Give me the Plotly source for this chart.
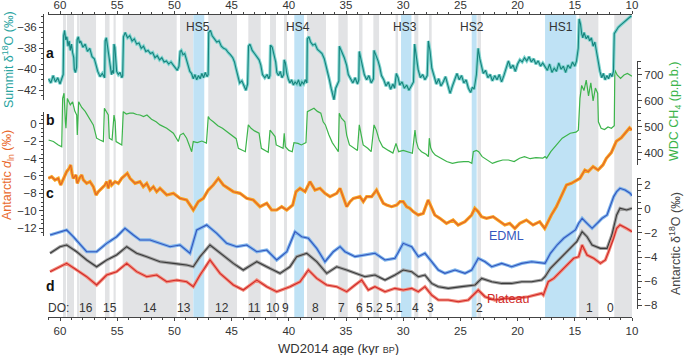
import plotly.graph_objects as go

# ---------------- data ----------------
# a: Summit (Greenland) d18O (permil) vs WD2014 age (kyr BP)
age_a = [61.0, 60.8, 60.6, 60.4, 60.2, 60.0, 59.85, 59.72, 59.68, 59.6, 59.5, 59.4, 59.3, 59.2, 59.1, 59.0, 58.9, 58.8,
         58.75, 58.65, 58.55, 58.5, 58.4, 58.3, 58.2, 58.0, 57.8, 57.6, 57.4, 57.2, 57.0, 56.85, 56.7, 56.5, 56.3, 56.1,
         56.05, 55.95, 55.85, 55.75, 55.68, 55.6, 55.5, 55.4, 55.32, 55.28, 55.2, 55.13, 55.05, 54.9, 54.75, 54.6, 54.52,
         54.45, 54.3, 54.1, 53.9, 53.7, 53.5, 53.3, 53.1, 52.9, 52.7, 52.5, 52.3, 52.1, 51.9, 51.7, 51.5, 51.3, 51.1, 50.9,
         50.7, 50.5, 50.3, 50.1, 49.9, 49.75, 49.6, 49.5, 49.4, 49.25, 49.1, 48.95, 48.8, 48.65, 48.5, 48.35, 48.2, 48.05,
         47.9, 47.75, 47.6, 47.45, 47.3, 47.15, 47.05, 47.0, 46.85, 46.7, 46.5, 46.3, 46.1, 45.9, 45.7, 45.5, 45.3, 45.1,
         44.9, 44.75, 44.6, 44.45, 44.3, 44.1, 43.9, 43.75, 43.6, 43.52, 43.4, 43.2, 43.0, 42.8, 42.6, 42.45, 42.3, 42.1,
         41.9, 41.75, 41.65, 41.6, 41.45, 41.3, 41.15, 41.05, 40.9, 40.75, 40.6, 40.45, 40.4, 40.3, 40.18, 40.05, 39.9,
         39.75, 39.6, 39.45, 39.3, 39.15, 39.0, 38.85, 38.7, 38.55, 38.42, 38.38, 38.25, 38.1, 37.9, 37.7, 37.5, 37.3,
         37.1, 36.9, 36.75, 36.6, 36.45, 36.3, 36.15, 36.05, 35.9, 35.75, 35.62, 35.58, 35.45, 35.3, 35.15, 34.95, 34.8,
         34.6, 34.4, 34.2, 34.0, 33.88, 33.84, 33.7, 33.55, 33.4, 33.2, 33.0, 32.8, 32.6, 32.55, 32.4, 32.2, 32.05, 31.9,
         31.7, 31.5, 31.3, 31.1, 30.9, 30.75, 30.6, 30.45, 30.3, 30.1, 29.9, 29.7, 29.5, 29.3, 29.1, 29.0, 28.85, 28.7,
         28.5, 28.3, 28.1, 27.9, 27.8, 27.65, 27.5, 27.3, 27.1, 26.9, 26.7, 26.5, 26.3, 26.1, 25.9, 25.7, 25.5, 25.3,
         25.1, 24.9, 24.7, 24.5, 24.3, 24.1, 23.95, 23.8, 23.6, 23.45, 23.3, 23.15, 23.0, 22.8, 22.6, 22.4, 22.2, 22.0,
         21.8, 21.6, 21.4, 21.2, 21.0, 20.8, 20.6, 20.4, 20.2, 20.0, 19.8, 19.6, 19.4, 19.2, 19.0, 18.8, 18.6, 18.4, 18.2,
         18.0, 17.8, 17.6, 17.4, 17.2, 17.0, 16.8, 16.6, 16.4, 16.2, 16.0, 15.8, 15.6, 15.4, 15.2, 15.0, 14.85, 14.7,
         14.62, 14.5, 14.4, 14.3, 14.2, 14.0, 13.85, 13.7, 13.55, 13.4, 13.25, 13.1, 12.95, 12.8, 12.65, 12.5, 12.35,
         12.2, 12.05, 11.9, 11.75, 11.62, 11.55, 11.4, 11.2, 11.0, 10.8, 10.6, 10.4, 10.2, 10.05]
summit_d18o = [-40.9, -41.3, -40.6, -41.2, -40.8, -41.4, -40.9, -40.5, -36.8, -36.3, -37.2, -36.9, -37.8, -37.3, -38.2,
               -37.6, -38.4, -38.9, -40.0, -40.3, -39.8, -37.2, -36.9, -37.5, -37.3, -37.9, -37.6, -38.3, -38.0, -38.8,
               -39.0, -39.6, -40.2, -40.7, -40.4, -40.8, -37.3, -37.0, -37.8, -38.6, -39.4, -40.2, -40.5, -40.1, -40.4,
               -37.6, -37.9, -39.0, -40.2, -40.5, -40.3, -40.8, -40.6, -36.9, -36.5, -37.0, -36.8, -37.3, -37.1, -37.6,
               -37.5, -38.0, -37.8, -38.3, -38.2, -38.5, -38.4, -38.9, -38.7, -39.1, -38.9, -39.3, -39.2, -39.5, -39.3,
               -39.6, -39.9, -40.1, -39.7, -38.3, -38.2, -38.6, -38.5, -39.1, -39.6, -40.2, -40.4, -40.9, -40.5, -41.0,
               -40.6, -40.9, -40.4, -40.8, -40.3, -40.7, -40.5, -36.5, -36.3, -36.8, -37.1, -37.4, -37.3, -37.8, -38.0,
               -38.1, -38.4, -38.6, -38.9, -39.3, -40.0, -40.8, -41.3, -41.1, -41.6, -42.0, -41.4, -37.8, -37.6, -38.2,
               -38.5, -38.8, -39.1, -39.6, -40.5, -40.8, -40.5, -40.9, -40.6, -37.7, -37.9, -38.6, -39.3, -40.3, -40.6,
               -40.2, -40.8, -40.5, -39.1, -39.4, -40.4, -40.9, -41.3, -41.0, -41.5, -41.2, -41.4, -41.0, -41.6, -41.2,
               -41.4, -41.0, -41.3, -37.1, -36.9, -37.4, -37.7, -37.6, -38.1, -38.3, -38.5, -39.0, -39.6, -40.4, -41.0,
               -41.8, -42.6, -42.9, -41.8, -41.4, -41.1, -37.8, -38.1, -38.5, -38.9, -39.6, -40.5, -40.9, -41.3, -40.8,
               -41.4, -41.0, -38.3, -39.0, -39.7, -40.5, -41.0, -40.6, -41.3, -40.9, -38.2, -38.6, -39.2, -39.8, -40.6,
               -41.0, -41.6, -41.2, -41.9, -41.4, -41.8, -40.4, -40.8, -41.5, -41.2, -41.8, -41.5, -42.0, -41.6, -41.2,
               -37.6, -38.6, -40.0, -40.8, -40.5, -41.0, -40.6, -37.3, -38.3, -39.9, -40.8, -41.4, -40.9, -41.6, -41.2,
               -40.7, -41.5, -42.3, -41.6, -41.0, -40.4, -41.0, -40.6, -41.3, -41.0, -41.8, -42.2, -41.7, -41.9, -40.5,
               -38.0, -39.0, -39.8, -40.4, -40.1, -40.8, -40.5, -41.1, -40.6, -41.0, -40.5, -41.2, -40.6, -40.0, -39.2,
               -39.9, -39.6, -40.2, -39.5, -39.1, -39.3, -38.9, -39.2, -38.8, -39.3, -39.0, -39.5, -39.2, -39.7, -39.4,
               -39.8, -40.1, -39.5, -40.3, -39.9, -40.2, -39.4, -40.0, -39.7, -40.3, -39.6, -39.9, -39.3, -39.7, -39.2,
               -38.0, -35.2, -35.7, -36.6, -37.0, -36.5, -37.1, -36.8, -37.3, -37.0, -37.8, -37.4, -38.4, -39.3, -40.2,
               -40.8, -40.4, -41.0, -40.6, -40.9, -40.4, -40.7, -40.2, -36.6, -36.3, -36.0, -35.8, -35.6, -35.4, -35.2,
               -35.0, -34.9]

# b: WAIS Divide CH4 (p.p.b.)
age_b = [61.0, 60.58, 60.15, 59.85, 59.77, 59.65, 59.53, 59.48, 59.36, 59.1, 58.9, 58.7, 58.54, 58.49, 58.37, 58.1, 57.8,
         57.5, 57.09, 56.94, 56.8, 56.5, 56.21, 56.12, 55.95, 55.78, 55.69, 55.45, 55.28, 55.18, 55.1, 54.85, 54.6,
         54.47, 54.2, 53.9, 53.6, 53.3, 53.0, 52.7, 52.4, 52.0, 51.6, 51.26, 50.67, 50.09, 49.66, 49.5, 49.22, 48.93,
         48.64, 48.49, 48.35, 48.0, 47.6, 47.2, 47.04, 46.9, 46.6, 46.2, 45.8, 45.4, 45.0, 44.6, 44.41, 44.1, 43.8,
         43.54, 43.3, 43.0, 42.6, 42.4, 42.1, 41.8, 41.64, 41.4, 41.2, 41.1, 40.8, 40.5, 40.4, 40.3, 40.0, 39.7, 39.55,
         39.2, 38.9, 38.5, 38.38, 38.1, 37.8, 37.5, 37.2, 37.0, 36.8, 36.5, 36.2, 35.9, 35.67, 35.59, 35.4, 35.1, 34.94,
         34.7, 34.3, 34.0, 33.84, 33.7, 33.5, 33.1, 32.8, 32.55, 32.35, 32.1, 31.8, 31.3, 30.9, 30.63, 30.4, 30.0, 29.6,
         29.2, 28.97, 28.85, 28.68, 28.4, 28.0, 27.8, 27.72, 27.6, 27.45, 27.2, 26.7, 26.2, 25.7, 25.2, 24.7, 24.3, 24.0,
         23.87, 23.6, 23.4, 23.1, 22.7, 22.2, 21.8, 21.3, 20.8, 20.3, 19.83, 19.4, 18.9, 18.4, 17.8, 17.6, 17.46, 17.1,
         16.6, 16.1, 15.4, 14.9, 14.69, 14.55, 14.4, 14.2, 14.0, 13.8, 13.6, 13.4, 13.2, 13.0, 12.94, 12.7, 12.4, 12.1,
         11.8, 11.55, 11.5, 11.3, 11.0, 10.7, 10.4, 10.0]
wdc_ch4 = [450, 444, 431, 424, 610, 630, 520, 495, 610, 585, 597, 560, 546, 469, 597, 575, 560, 540, 508, 482, 457, 450,
           444, 572, 559, 546, 457, 450, 546, 520, 444, 437, 431, 559, 550, 553, 553, 548, 546, 540, 546, 530, 520, 508,
           495, 476, 444, 469, 476, 457, 418, 405, 444, 440, 446, 438, 540, 530, 520, 505, 495, 482, 470, 455, 418, 410,
           405, 508, 495, 485, 476, 418, 410, 403, 488, 476, 463, 431, 424, 418, 476, 424, 410, 405, 440, 437, 431, 440,
           559, 565, 572, 560, 553, 520, 508, 470, 440, 420, 405, 553, 534, 520, 469, 431, 418, 410, 508, 469, 431, 418,
           405, 508, 488, 450, 424, 410, 400, 437, 405, 410, 403, 399, 488, 444, 418, 405, 395, 386, 457, 420, 405, 392,
           380, 367, 360, 365, 367, 367, 360, 405, 410, 405, 386, 373, 360, 367, 373, 373, 367, 380, 386, 378, 382, 380,
           386, 380, 405, 431, 457, 476, 480, 488, 610, 660, 640, 680, 620, 670, 600, 650, 630, 520, 495, 490, 500, 495,
           505, 719, 700, 687, 700, 706, 695]

# c: Antarctic d_ln (permil)
age_c = [61.02, 60.73, 60.44, 60.15, 59.94, 59.77, 59.56, 59.42, 59.19, 59.07, 58.95, 58.84, 58.6, 58.49, 58.31, 58.1,
         57.96, 57.67, 57.38, 57.09, 56.85, 56.65, 56.36, 56.07, 55.92, 55.78, 55.63, 55.48, 55.19, 54.9, 54.61, 54.32,
         54.12, 53.88, 53.44, 53.01, 52.72, 52.42, 52.13, 51.84, 51.55, 51.26, 50.67, 50.09, 49.51, 48.93, 48.49, 48.35,
         47.91, 47.47, 47.04, 46.6, 46.16, 45.72, 45.29, 44.85, 44.27, 43.68, 43.1, 42.52, 41.93, 41.5, 41.06, 40.62,
         40.18, 39.66, 39.37, 39.02, 38.58, 38.15, 37.71, 37.27, 36.84, 36.4, 35.81, 35.52, 34.94, 34.65, 34.36, 33.78,
         33.49, 33.2, 32.76, 32.33, 32.04, 31.74, 31.45, 31.01, 30.57, 30.28, 30.0, 29.7, 29.42, 29.13, 28.69, 28.25,
         27.82, 27.53, 27.24, 26.8, 26.22, 25.64, 25.2, 24.6, 24.02, 23.74, 23.45, 23.16, 22.72, 22.14, 21.56, 21.12,
         20.69, 20.24, 19.81, 19.23, 18.65, 18.07, 17.63, 17.34, 17.05, 16.61, 16.17, 15.73, 15.3, 14.84, 14.55, 14.12,
         13.83, 13.4, 12.97, 12.54, 12.24, 11.81, 11.37, 10.94, 10.5, 10.21, 10.0]
antarctic_dln = [-6.27, -6.08, -6.46, -6.27, -7.04, -6.46, -5.88, -5.5, -5.11, -4.73, -5.69, -6.27, -5.88, -6.85, -6.27,
                 -5.88, -6.46, -6.85, -6.65, -7.23, -8.19, -7.81, -7.42, -7.04, -6.65, -7.42, -6.46, -7.04, -6.65, -6.85,
                 -6.27, -5.88, -5.69, -6.27, -6.85, -6.65, -7.23, -6.85, -7.62, -7.23, -7.81, -7.42, -8.19, -8.0, -8.58,
                 -8.77, -9.54, -9.92, -8.96, -8.58, -7.62, -7.04, -6.27, -7.04, -7.42, -7.81, -8.0, -8.58, -8.77, -9.54,
                 -9.15, -9.92, -9.92, -9.54, -9.92, -9.35, -7.81, -7.42, -7.81, -6.65, -7.62, -7.42, -8.0, -8.38, -8.0,
                 -7.42, -9.54, -8.96, -8.58, -8.38, -8.96, -8.38, -8.38, -7.62, -8.38, -9.15, -9.35, -9.54, -9.35, -8.96,
                 -8.96, -9.54, -9.73, -10.11, -10.5, -10.31, -8.77, -9.54, -10.5, -10.88, -11.46, -11.08, -11.65, -11.27,
                 -10.5, -9.73, -10.11, -10.69, -10.88, -10.69, -11.27, -11.65, -11.46, -12.04, -11.46, -11.08, -11.65,
                 -11.27, -12.04, -11.27, -10.5, -9.54, -8.38, -7.04, -6.85, -6.46, -6.27, -5.31, -5.5, -4.92, -5.31,
                 -4.73, -3.96, -3.3, -2.0, -1.6, -0.9, -0.45, -0.7]

# d: Antarctic d18O anomalies (permil): EDML, composite and Plateau
age_edml = [60.87, 60.0, 59.42, 58.84, 57.67, 56.8, 55.92, 55.05, 54.32, 53.59, 53.01, 52.13, 51.26, 50.38, 49.51, 48.64,
            48.05, 47.18, 46.3, 45.43, 44.55, 43.68, 42.8, 41.93, 41.06, 40.18, 39.46, 38.87, 38.29, 37.56, 36.84, 36.11,
            35.52, 35.09, 34.21, 33.34, 32.47, 31.59, 30.72, 30.0, 29.26, 28.68, 28.1, 27.51, 26.93, 26.35, 25.47, 24.6,
            24.01, 23.44, 22.85, 22.26, 21.39, 20.52, 19.64, 18.77, 17.9, 17.6, 17.13, 16.55, 15.97, 15.38, 14.95, 14.66,
            14.36, 13.93, 13.49, 13.05, 12.62, 12.18, 11.9, 11.6, 11.34, 11.05, 10.61, 10.17, 10.0]
edml_d18o = [-2.17, -1.89, -1.75, -2.31, -3.56, -3.56, -2.86, -2.31, -1.61, -2.17, -2.58, -2.58, -2.86, -3.14, -3.0,
             -3.69, -1.75, -1.33, -2.03, -2.86, -3.14, -3.0, -3.56, -3.42, -4.25, -3.56, -1.89, -2.31, -2.44, -3.28,
             -4.39, -3.56, -3.14, -3.56, -3.97, -3.83, -3.69, -4.25, -4.11, -2.86, -3.14, -3.97, -3.69, -4.39, -5.08,
             -5.36, -5.08, -5.36, -5.08, -4.11, -4.39, -4.81, -4.53, -4.81, -4.53, -4.39, -4.53, -4.53, -3.69, -3.0,
             -2.44, -2.03, -1.75, -1.19, -0.78, -1.19, -1.61, -1.19, -0.78, -0.5, 0.33, 1.03, 1.44, 1.72, 1.58, 1.31,
             1.1]

age_comp = [60.87, 60.0, 59.42, 58.54, 57.67, 56.8, 55.92, 55.05, 54.17, 53.3, 52.42, 51.26, 50.09, 48.93, 48.35, 47.76,
            46.89, 46.01, 44.85, 43.98, 42.8, 41.93, 40.77, 39.9, 39.31, 38.43, 37.56, 36.69, 35.81, 34.94, 34.21, 33.34,
            32.47, 31.59, 30.72, 30.0, 29.26, 28.68, 28.1, 27.51, 26.93, 26.06, 24.89, 23.72, 23.14, 22.26, 21.39, 20.52,
            19.64, 18.77, 17.9, 17.6, 17.13, 16.55, 15.97, 15.38, 14.83, 14.36, 13.93, 13.49, 12.76, 12.18, 11.76, 11.34,
            11.05, 10.47, 10.0]
comp_d18o = [-3.69, -3.14, -3.0, -3.56, -4.25, -4.81, -4.25, -3.83, -3.14, -3.69, -3.97, -4.39, -4.53, -4.67, -4.81,
             -3.97, -3.0, -3.69, -4.53, -5.08, -4.39, -4.81, -5.36, -4.81, -3.97, -3.69, -4.39, -5.36, -4.81, -5.08,
             -5.36, -5.64, -5.5, -5.92, -5.5, -5.08, -5.22, -5.64, -5.5, -6.2, -6.47, -6.61, -6.47, -6.33, -5.78, -6.06,
             -6.2, -6.2, -6.06, -6.06, -5.92, -5.64, -4.94, -4.39, -3.83, -3.28, -2.72, -1.89, -2.31, -3.0, -3.28,
             -3.28, -2.17, -0.5, 0.06, -0.08, 0.06]

age_plat = [60.87, 60.0, 59.42, 58.54, 57.67, 56.8, 55.92, 55.05, 54.17, 53.3, 52.42, 51.55, 50.67, 49.8, 48.93, 48.35,
            47.76, 46.89, 46.01, 44.85, 43.98, 42.8, 41.93, 41.06, 39.9, 39.02, 38.29, 37.56, 36.69, 35.81, 34.94, 34.21,
            33.63, 33.05, 32.47, 31.59, 30.72, 30.0, 29.26, 28.68, 28.1, 27.51, 26.93, 26.06, 25.18, 24.31, 23.44, 22.85,
            22.0, 21.1, 20.23, 19.07, 17.9, 17.75, 17.32, 16.84, 16.26, 15.68, 15.1, 14.66, 14.36, 13.93, 13.35, 12.76,
            12.33, 12.05, 11.6, 11.34, 11.05, 10.47, 10.0]
plateau_d18o = [-5.22, -4.81, -4.53, -5.08, -5.64, -6.33, -5.5, -5.22, -4.53, -5.22, -5.64, -5.5, -6.06, -5.92, -6.06,
                -6.47, -5.5, -4.25, -5.36, -6.33, -6.75, -5.92, -6.47, -6.89, -6.47, -6.06, -5.08, -5.78, -6.33, -6.47,
                -6.89, -6.33, -5.92, -6.75, -6.47, -6.89, -6.61, -6.75, -6.61, -6.89, -6.47, -7.17, -7.58, -7.58, -7.72,
                -7.58, -6.75, -7.31, -7.58, -7.44, -7.44, -7.31, -7.03, -7.17, -6.06, -5.78, -5.22, -4.67, -4.11, -3.97,
                -3.0, -3.83, -4.11, -4.53, -4.25, -3.56, -2.44, -1.61, -1.33, -1.61, -1.89]

# shaded periods (kyr BP): Greenland interstadials (grey) and Heinrich stadials (blue)
gi_start = [59.74, 59.39, 58.51, 58.30, 56.07, 55.32, 54.52, 49.51, 47.04, 43.54, 41.64, 40.42, 38.41, 35.67, 33.86,
            32.61, 30.67, 29.03, 27.74, 23.51, 14.63, 11.55]
gi_end = [59.48, 58.78, 58.34, 56.85, 55.67, 55.13, 49.80, 48.37, 44.53, 42.46, 41.12, 40.16, 36.75, 34.85, 33.56,
          32.11, 30.45, 28.68, 27.51, 23.20, 12.94, 10.0]
hs_names = ["HS5", "HS4", "HS3", "HS2", "HS1"]
hs_start = [48.35, 39.52, 30.19, 24.01, 17.60]
hs_end = [47.39, 38.67, 29.28, 23.58, 14.87]
hs_label_age = [47.9, 39.2, 29.8, 24.0, 16.2]

do_labels = ["DO:", "16", "15", "14", "13", "12", "11", "10", "9", "8", "7", "6", "5.2", "5.1", "4", "3", "2", "1", "0"]
do_label_age = [60.15, 57.73, 55.63, 52.1, 49.13, 45.8, 43.0, 41.35, 40.3, 37.7, 35.4, 33.8, 32.5, 30.8, 28.9, 27.6,
                23.3, 13.75, 11.9]

x_ticks = [60, 55, 50, 45, 40, 35, 30, 25, 20, 15, 10]

# ---------------- figure ----------------
FONT = "Liberation Sans, Arial, Helvetica, sans-serif"
TXT = "#333333"
fig = go.Figure()


def add_series(x, y, yaxis, line_color, env_color, lw=1.1, xaxis="x"):
    if env_color:
        fig.add_trace(go.Scatter(x=x, y=y, xaxis=xaxis, yaxis=yaxis, mode="lines", hoverinfo="skip",
                                 showlegend=False, line=dict(color=env_color, width=3.2)))
    fig.add_trace(go.Scatter(x=x, y=y, xaxis=xaxis, yaxis=yaxis, mode="lines", showlegend=False,
                             line=dict(color=line_color, width=lw)))


add_series(age_a, summit_d18o, "y", "#17837d", "#7fd4cf", xaxis="x2")
add_series(age_b, wdc_ch4, "y2", "#3cb44b", None, 1.2)
add_series(age_c, antarctic_dln, "y3", "#e2642a", "#f8a523")
add_series(age_edml, edml_d18o, "y4", "#3457bd", "#7fb5ec")
add_series(age_comp, comp_d18o, "y4", "#3a3a3a", "#a0a0a0")
add_series(age_plat, plateau_d18o, "y4", "#d02a2a", "#f28c7c")

shapes = []
for s, e in zip(gi_start, gi_end):
    shapes.append(dict(type="rect", xref="x", yref="paper", x0=s, x1=e, y0=0, y1=1,
                       fillcolor="#e2e3e5", line=dict(width=0), layer="below"))
for s, e in zip(hs_start, hs_end):
    shapes.append(dict(type="rect", xref="x", yref="paper", x0=s, x1=e, y0=0, y1=1,
                       fillcolor="#bfe2f5", line=dict(width=0), layer="below"))

L, R, T, B = 43, 48, 14, 38
W, H = 685, 355
pw = W - L - R
ph = H - T - B
xdom = [(48 - L) / pw, (632 - L) / pw]

ann = []
for t, a in zip(do_labels, do_label_age):
    ann.append(dict(x=a, y=0.03, xref="x", yref="paper", text=t, showarrow=False,
                    font=dict(size=12, color=TXT, family=FONT), xanchor="center", yanchor="middle"))
for t, a in zip(hs_names, hs_label_age):
    ann.append(dict(x=a, y=0.957, xref="x", yref="paper", text=t, showarrow=False,
                    font=dict(size=12, color=TXT, family=FONT), xanchor="center", yanchor="middle"))
for t, yy in zip(["a", "b", "c", "d"], [0.871, 0.650, 0.409, 0.102]):
    ann.append(dict(x=60.87, y=yy, xref="x", yref="paper", text="<b>%s</b>" % t, showarrow=False,
                    font=dict(size=14, color="#111111", family=FONT), xanchor="center", yanchor="middle"))
ann.append(dict(x=21.0, y=0.238, xref="x", yref="paper", text="EDML", showarrow=False,
                font=dict(size=12.5, color="#3457bd", family=FONT)))
ann.append(dict(x=20.8, y=0.03, xref="x", yref="paper", text="Plateau", showarrow=False,
                font=dict(size=12.5, color="#d02a2a", family=FONT)))

# axis titles (rotated), placed in the margins
axis_titles = [
    ("Summit δ<sup>18</sup>O (‰)", 8, 60, "#2aa49f"),
    ("Antarctic <i>d</i><sub>ln</sub> (‰)", 8, 175, "#e9692c"),
    ("WDC CH<sub>4</sub> (p.p.b.)", 675, 112, "#3cb44b"),
    ("Antarctic δ<sup>18</sup>O (‰)", 675, 244, "#444444"),
]
for txt, px, py, col in axis_titles:
    ann.append(dict(x=(px - L) / pw, y=(H - B - py) / ph, xref="paper", yref="paper", text=txt, textangle=-90,
                    showarrow=False, xanchor="center", yanchor="middle",
                    font=dict(size=12.5, color=col, family=FONT)))
ann.append(dict(x=(338 - L) / pw, y=(H - B - 348) / ph, xref="paper", yref="paper",
                text="WD2014 age (kyr <span style='font-size:9px'>BP</span>)", showarrow=False,
                xanchor="center", yanchor="middle", font=dict(size=13, color=TXT, family=FONT)))

tickfont = dict(size=11.5, color=TXT, family=FONT)
common_y = dict(showgrid=False, zeroline=False, showline=True, linecolor="#444", linewidth=1, automargin=False,
                ticks="outside", ticklen=4, tickcolor="#444", tickfont=tickfont, anchor="free")

xcommon = dict(domain=xdom, range=[61.05, 10], showgrid=False, zeroline=False, showline=True, linecolor="#444",
               linewidth=1, ticks="outside", ticklen=3, tickcolor="#444", tickvals=x_ticks, tickfont=tickfont,
               automargin=False, minor=dict(dtick=1, tick0=0, ticks="outside", ticklen=2, tickcolor="#444"))

fig.update_layout(
    width=W, height=H, margin=dict(l=L, r=R, t=T, b=B, autoexpand=False), paper_bgcolor="white",
    plot_bgcolor="rgba(0,0,0,0)",
    font=dict(family=FONT, color=TXT), showlegend=False, shapes=shapes, annotations=ann,
    xaxis=dict(**xcommon, anchor="free", position=0, side="bottom"),
    xaxis2=dict(**xcommon, anchor="free", position=1, side="top", overlaying="x", ticklabelstandoff=-3),
    yaxis=dict(**common_y, domain=[(317 - 100) / 303, 1.0], range=[-42.924, -34.733], position=0, side="left",
               tickvals=[-36, -38, -40, -42], minor=dict(dtick=0.5, ticks="outside", ticklen=2.5, tickcolor="#444")),
    yaxis2=dict(**common_y, domain=[(317 - 165) / 303, (317 - 61) / 303], range=[353.8, 753.8], position=1,
                side="right", tickvals=[400, 500, 600, 700],
                minor=dict(dtick=25, tick0=0, ticks="outside", ticklen=2.5, tickcolor="#444")),
    yaxis3=dict(**common_y, domain=[(317 - 236) / 303, (317 - 112) / 303], range=[-12.92, 1.38], position=0,
                side="left", tickvals=[0, -2, -4, -6, -8, -10, -12],
                minor=dict(dtick=0.5, ticks="outside", ticklen=2.5, tickcolor="#444")),
    yaxis4=dict(**common_y, domain=[(317 - 309) / 303, (317 - 178) / 303], range=[-8.33, 2.58], position=1,
                side="right", tickvals=[2, 0, -2, -4, -6, -8],
                minor=dict(dtick=0.5, ticks="outside", ticklen=2.5, tickcolor="#444")),
)

# the figure fills the 685x355 page exactly (no default body margin), without the mode bar
fig.write_html("out.html", config={"displayModeBar": False},
               post_script="document.body.style.margin='0px';")
